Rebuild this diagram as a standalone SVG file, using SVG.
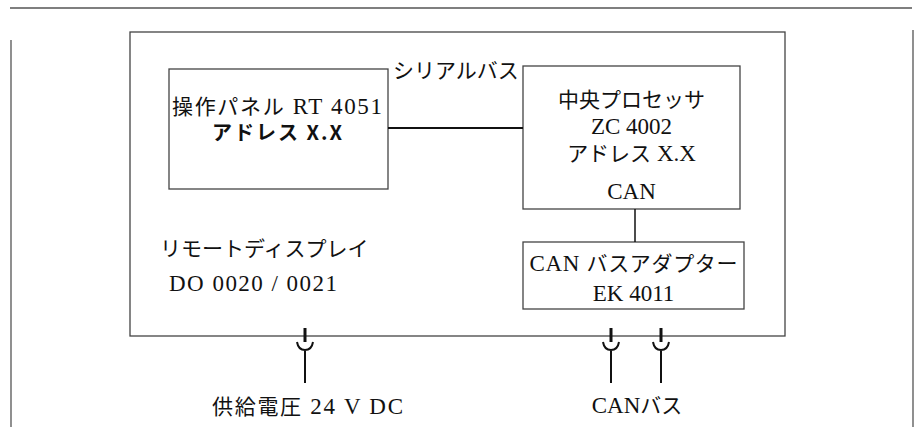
<svg xmlns="http://www.w3.org/2000/svg" width="919" height="427" viewBox="0 0 919 427">
<style>
.frame{fill:none;stroke:#555;stroke-width:1.3}
.box{fill:none;stroke:#444;stroke-width:1.3}
.wire{fill:none;stroke:#111;stroke-width:2}
.pin{fill:none;stroke:#111;stroke-width:3}
.t{font-family:"Liberation Serif","Noto Sans CJK JP",serif;font-size:23px;fill:#111}
.j{font-family:"Noto Sans CJK JP",sans-serif;font-size:21px}
.c{text-anchor:middle}
.b{font-family:"Noto Sans CJK JP","Liberation Sans",sans-serif;font-weight:bold;font-size:20px;fill:#111}
</style>
<rect width="919" height="427" fill="#fff"/>
<g id="frame">
<path class="frame" d="M10,8 H912 M11,40 V427 M913,30 V427"/>
</g>
<g id="remote-display">
<rect class="box" x="130" y="32" width="655" height="304"/>
<text class="t" x="160" y="256"><tspan class="j">リモートディスプレイ</tspan></text>
<text class="t" x="169" y="291" textLength="168">DO 0020 / 0021</text>
</g>
<g id="operator-panel">
<rect class="box" x="169" y="69" width="219" height="120"/>
<text class="t" x="172" y="114" textLength="210"><tspan class="j">操作パネル</tspan> RT 4051</text>
<text class="b" x="212" y="140" textLength="130">アドレス X.X</text>
</g>
<g id="cpu">
<rect class="box" x="523" y="66" width="217" height="143"/>
<text class="t c" x="631.5" y="107"><tspan class="j">中央プロセッサ</tspan></text>
<text class="t c" x="631.5" y="134">ZC 4002</text>
<text class="t c" x="631.5" y="161"><tspan class="j">アドレス</tspan> X.X</text>
<text class="t c" x="631.5" y="199">CAN</text>
</g>
<g id="can-adapter">
<rect class="box" x="523" y="242" width="221" height="67"/>
<text class="t c" x="633.5" y="271" textLength="208">CAN <tspan class="j">バスアダプター</tspan></text>
<text class="t c" x="633.5" y="301">EK 4011</text>
</g>
<g id="connectors">
<path class="wire" d="M388,128 H523"/>
<path class="wire" d="M635,209 V242" style="stroke-width:1.5"/>
<g id="power-plug">
<path class="pin" d="M305,328 V342"/>
<path class="wire" d="M297,342 C298,348 301,350 305,350 C309,350 312,348 313,342 M305,350 V383"/>
</g>
<g id="can-plug-1">
<path class="pin" d="M611,328 V342"/>
<path class="wire" d="M603,342 C604,348 607,350 611,350 C615,350 618,348 619,342 M611,350 V383"/>
</g>
<g id="can-plug-2">
<path class="pin" d="M661,328 V342"/>
<path class="wire" d="M653,342 C654,348 657,350 661,350 C665,350 668,348 669,342 M661,350 V383"/>
</g>
</g>
<g id="labels">
<text class="t" x="393" y="78"><tspan class="j">シリアルバス</tspan></text>
<text class="t" x="212" y="414" textLength="191"><tspan class="j">供給電圧</tspan> 24 V DC</text>
<text class="t c" x="637" y="413">CAN<tspan class="j">バス</tspan></text>
</g>
</svg>
